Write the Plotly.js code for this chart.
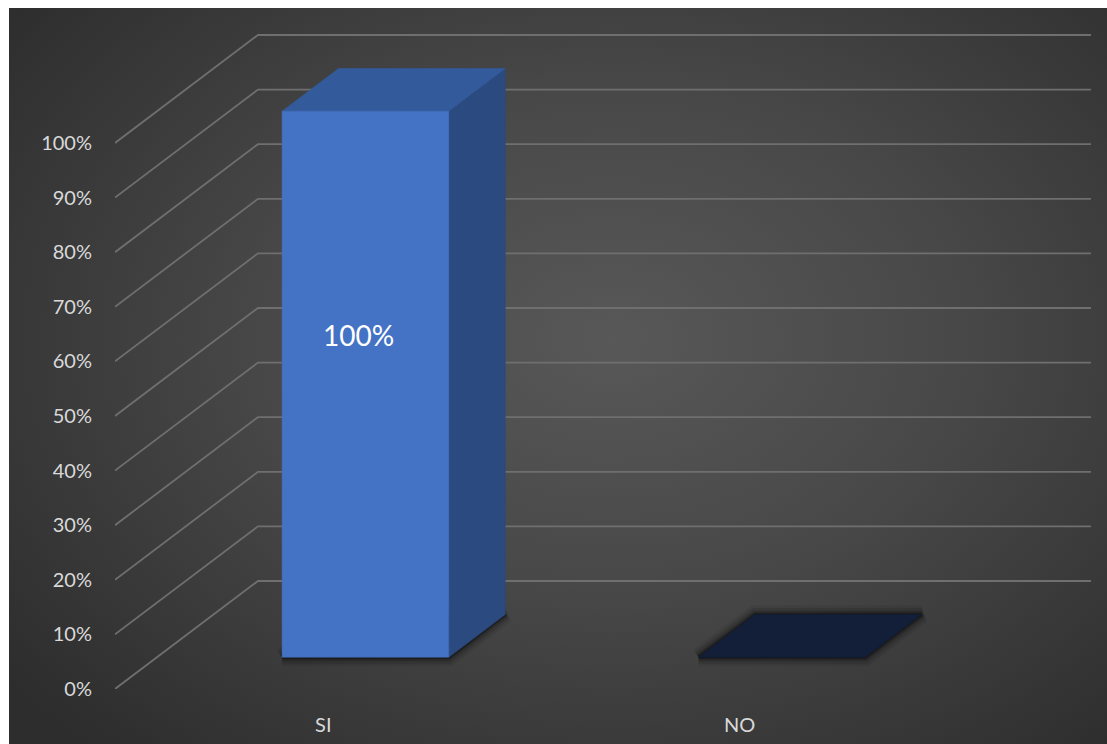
<!DOCTYPE html>
<html><head><meta charset="utf-8">
<script src="https://cdn.plot.ly/plotly-3.0.1.min.js"></script>
<style>
html,body{margin:0;padding:0;background:#fff;}
#wrap{position:relative;width:1107px;height:744px;overflow:hidden;background:#fff;}
#bg{position:absolute;left:9px;top:8px;width:1098px;height:736px;
 background:radial-gradient(ellipse 70% 75% at 55% 45%, #585858 0%, #484848 45%, #2d2d2d 100%);}
#chart{position:absolute;left:0;top:0;width:1107px;height:744px;}
</style></head><body>
<div id="wrap"><div id="bg"></div><div id="chart"></div></div>
<script>
// ---- data ----
const categories = ['SI', 'NO'];
const values = [100, 0];
const dataLabels = ['100%', '0%'];
const yTickValues = [0, 10, 20, 30, 40, 50, 60, 70, 80, 90, 100];
const yTickLabels = ['0%', '10%', '20%', '30%', '40%', '50%', '60%', '70%', '80%', '90%', '100%'];

// ---- oblique 3D projection (in axis units) ----
const DX = 0.3433;   // x shift for full depth
const DY = 19.78;    // y shift for full depth
const D1 = 0.295, D2 = 0.69, HW = 0.2;
const XMIN = -0.5, XMAX = categories.length - 0.5;
function P(x, y, d) { return [x + d * DX, y + d * DY]; }

const FONT = 'Lato, "Open Sans", sans-serif';
const colors = {
  front: '#4472c4', side: '#2b4a80', top: '#335a9a', flat: '#131f38'
};

const traces = [];

// gridlines: diagonal side-wall lines + back-wall horizontals
const gx = [], gy = [];
yTickValues.forEach(v => {
  const a = P(XMIN, v, 0), b = P(XMIN, v, 1), c = P(XMAX, v, 1);
  gx.push(a[0], b[0], c[0], null);
  gy.push(a[1], b[1], c[1], null);
});
traces.push({type: 'scatter', mode: 'lines', x: gx, y: gy, hoverinfo: 'skip',
  line: {color: '#6f6f6f', width: 1.8}, showlegend: false});

function poly(pts, fill, line, lw) {
  const xs = pts.map(p => p[0]).concat([pts[0][0]]);
  const ys = pts.map(p => p[1]).concat([pts[0][1]]);
  traces.push({type: 'scatter', mode: 'lines', x: xs, y: ys, fill: 'toself',
    fillcolor: fill, line: {color: line || fill, width: lw === undefined ? 0.6 : lw},
    hoverinfo: 'skip', showlegend: false});
}

const annotations = [];
categories.forEach((cat, i) => {
  const v = values[i];
  const x0 = i - HW, x1 = i + HW;
  const foot = [P(x0, 0, D1), P(x1, 0, D1), P(x1, 0, D2), P(x0, 0, D2)];
  // soft blurred shadow
  [[18, 0.07], [13, 0.1], [8, 0.16], [4, 0.3]].forEach(s => {
    poly(foot, 'rgba(0,0,0,' + s[1] + ')', 'rgba(0,0,0,' + s[1] + ')', s[0]);
  });
  if (v > 0) {
    poly([P(x1, 0, D1), P(x1, 0, D2), P(x1, v, D2), P(x1, v, D1)], colors.side);
    poly([P(x0, v, D1), P(x1, v, D1), P(x1, v, D2), P(x0, v, D2)], colors.top);
    poly([P(x0, 0, D1), P(x1, 0, D1), P(x1, v, D1), P(x0, v, D1)], colors.front);
    const lp = P(i, v * 0.59, D1);
    annotations.push({x: lp[0], y: lp[1], xshift: -7, text: dataLabels[i], showarrow: false,
      font: {family: FONT, size: 28, color: '#ffffff'}});
  } else {
    poly(foot, colors.flat, colors.flat, 0.6);
  }
});

const layout = {
  width: 1107, height: 744,
  margin: {l: 115, r: 0, t: 0, b: 55},
  paper_bgcolor: 'rgba(0,0,0,0)', plot_bgcolor: 'rgba(0,0,0,0)',
  showlegend: false,
  xaxis: {range: [-0.5, 1.8818], tickvals: categories.map((c, i) => i), ticktext: categories,
    showgrid: false, zeroline: false, showline: false, ticks: '', ticklabelstandoff: 22,
    tickfont: {family: FONT, size: 20, color: '#d9d9d9'}, fixedrange: true},
  yaxis: {range: [0, 126.19], tickvals: yTickValues, ticktext: yTickLabels,
    showgrid: false, zeroline: false, showline: false, ticks: '', ticklabelstandoff: 22,
    tickfont: {family: FONT, size: 20, color: '#d9d9d9'}, fixedrange: true},
  annotations: annotations
};

Plotly.newPlot('chart', traces, layout, {staticPlot: true, displayModeBar: false});
</script>
</body></html>
